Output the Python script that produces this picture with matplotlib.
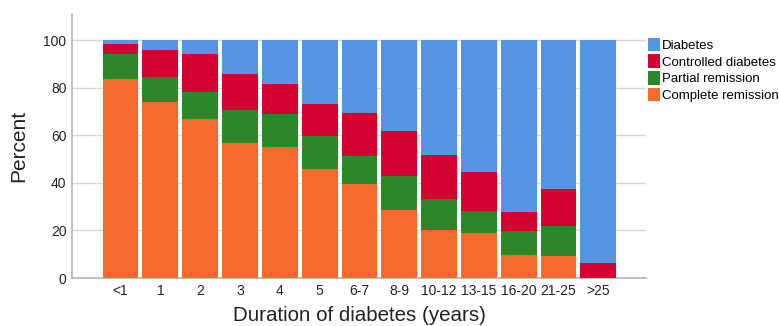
import numpy as np
import matplotlib.pyplot as plt
from matplotlib.patches import Patch

plt.rcParams['font.family'] = ['Liberation Sans', 'DejaVu Sans']

durations = ['<1', '1', '2', '3', '4', '5', '6-7', '8-9', '10-12', '13-15', '16-20', '21-25', '>25']
complete = [83.6, 73.9, 66.7, 56.6, 54.9, 46.0, 39.4, 28.7, 20.4, 18.9, 9.6, 9.3, 0.0]
partial = [10.8, 10.5, 11.4, 14.1, 14.2, 13.7, 11.9, 14.0, 12.9, 9.2, 10.0, 12.4, 0.0]
controlled = [4.2, 11.4, 16.3, 14.9, 12.5, 13.6, 18.0, 19.3, 18.4, 16.6, 8.0, 15.7, 6.5]
diabetes = [1.4, 4.2, 5.6, 14.4, 18.4, 26.7, 30.7, 38.0, 48.3, 55.3, 72.4, 62.6, 93.5]

series = [
    ('Complete remission', complete, '#F26A2C'),
    ('Partial remission', partial, '#2A872A'),
    ('Controlled diabetes', controlled, '#D50032'),
    ('Diabetes', diabetes, '#5596E4'),
]

fig = plt.figure(figsize=(7.79, 3.26), dpi=100)
ax = fig.add_axes([0.0924, 0.147, 0.737, 0.81])

x = np.arange(len(durations))
bottom = np.zeros(len(durations))
for name, vals, col in series:
    vals = np.array(vals)
    ax.bar(x, vals, bottom=bottom, width=0.9, color=col, edgecolor='none', zorder=3)
    bottom += vals

ax.set_xlim(-1.22, len(durations) - 1 + 1.2)
ax.set_ylim(0, 111)
ax.set_yticks([0, 20, 40, 60, 80, 100])
ax.yaxis.grid(True, color='#d9d9d9', linewidth=1, zorder=0)
ax.set_xticks(x)
ax.set_xticklabels(durations)
ax.tick_params(axis='both', length=0, labelsize=10, colors='#222222', pad=4)

for s in ['top', 'right']:
    ax.spines[s].set_visible(False)
for s in ['left', 'bottom']:
    ax.spines[s].set_color('#b5b5b5')
    ax.spines[s].set_linewidth(1.2)

ax.set_ylabel('Percent', fontsize=15, color='#222222', labelpad=11)
ax.set_xlabel('Duration of diabetes (years)', fontsize=14.8, color='#222222', labelpad=6)

handles = [Patch(facecolor=col, label=name) for name, vals, col in reversed(series)]
fig.legend(handles=handles, loc='upper left', bbox_to_anchor=(0.825, 0.9),
           frameon=False, fontsize=9.5, handlelength=0.9, handleheight=1.2,
           handletextpad=0.15, labelspacing=0.18, borderaxespad=0)

fig.savefig('out.png', dpi=100)
